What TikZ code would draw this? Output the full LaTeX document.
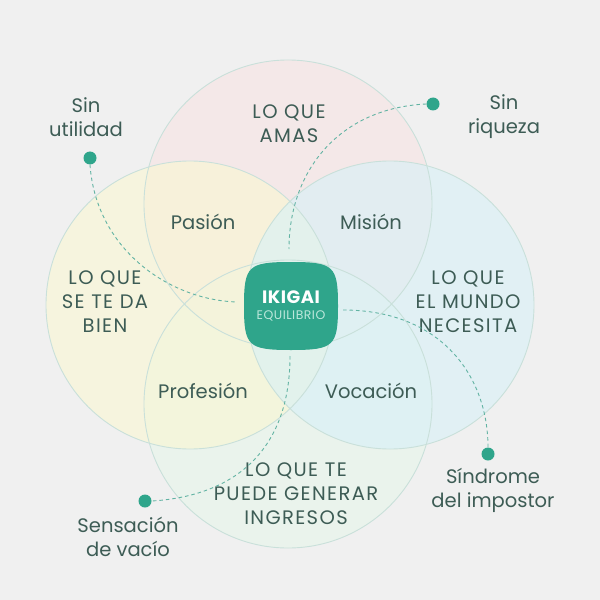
\documentclass[tikz,border=0pt]{standalone}
\usepackage{fontspec}
\setmainfont{Poppins}
\newfontfamily\capsfont[LetterSpace=7]{Poppins}
\newfontfamily\ikfont[LetterSpace=3]{Poppins}
\newfontfamily\subfont[LetterSpace=4]{Poppins}
\definecolor{bg}{HTML}{F0F0F0}
\definecolor{cpink}{HTML}{F8E4E4}
\definecolor{cyellow}{HTML}{FAF7D2}
\definecolor{cblue}{HTML}{D7F1F8}
\definecolor{cgreen}{HTML}{E6F5EA}
\definecolor{ring}{HTML}{C9E0DA}
\definecolor{teal}{HTML}{2FA58B}
\definecolor{dashc}{HTML}{62B3A3}
\definecolor{txt}{HTML}{3D5C55}
\definecolor{sub}{HTML}{BDE8DC}
\tikzset{
  lbl/.style={text=txt, align=center, font=\fontsize{19.6}{24.2}\selectfont, inner sep=0pt},
  caplbl/.style={lbl, font=\fontsize{19.6}{24.2}\selectfont\capsfont},
  dotnode/.style={circle, fill=teal, minimum size=13bp, inner sep=0pt},
  conn/.style={draw=dashc, dashed, dash pattern=on 3.5bp off 3bp, line width=0.9bp},
  ring/.style={draw=ring, line width=0.9bp},
  blob/.style={fill opacity=0.6}
}
\begin{document}
\begin{tikzpicture}[x=1bp,y=-1bp]
\fill[bg] (0,0) rectangle (600,600);
\useasboundingbox (0,0) rectangle (600,600);
% circle fills
\fill[cpink,blob] (288,204) circle[radius=144bp];
\fill[cgreen,blob] (288,404) circle[radius=144bp];
\fill[cyellow,blob] (190,305) circle[radius=144bp];
\fill[cblue,blob] (390,305) circle[radius=144bp];
% circle outlines
\draw[ring] (288,204) circle[radius=144bp];
\draw[ring] (288,404) circle[radius=144bp];
\draw[ring] (190,305) circle[radius=144bp];
\draw[ring] (390,305) circle[radius=144bp];
% central squircle
\fill[teal] (291,262) .. controls (334,262) and (338,266) .. (338,306)
  .. controls (338,346) and (334,350) .. (291,350)
  .. controls (248,350) and (244,346) .. (244,306)
  .. controls (244,266) and (248,262) .. (291,262) -- cycle;
\node[inner sep=0pt, text=white, font=\fontsize{18}{19}\selectfont\ikfont\bfseries] (ik) at (291,297) {IKIGAI};
\node[inner sep=0pt, text=sub, font=\fontsize{12.5}{13}\selectfont\subfont] (eq) at (291,316) {EQUILIBRIO};
\coordinate (bl) at (237,302);
\coordinate (bt) at (289,249);
\coordinate (bb) at (290,356);
\coordinate (br) at (343,310);
% labels
\node[caplbl] (amas) at (289,124) {LO QUE\\AMAS};
\node[lbl] (pas) at (203,222) {Pasión};
\node[lbl] (mis) at (371,222) {Misión};
\node[caplbl] (bien) at (105,302) {LO QUE\\SE TE DA\\BIEN};
\node[caplbl] (mundo) at (468,302) {LO QUE\\EL MUNDO\\NECESITA};
\node[lbl] (prof) at (203,391) {Profesión};
\node[lbl] (voc) at (371,391) {Vocación};
\node[caplbl] (ingr) at (296,494) {LO QUE TE\\PUEDE GENERAR\\INGRESOS};
\node[lbl] (su) at (86,117) {Sin\\utilidad};
\node[lbl] (sr) at (504,117) {Sin\\riqueza};
\node[lbl] (sv) at (128,537) {Sensación\\de vacío};
\node[lbl] (si) at (493,490) {Síndrome\\del impostor};
% dots
\node[dotnode] (d1) at (90,158) {};
\node[dotnode] (d2) at (433,104) {};
\node[dotnode] (d3) at (145,501) {};
\node[dotnode] (d4) at (488,454) {};
% connectors
\draw[conn] (d1.south) .. controls (96,250) and (170,300) .. (bl);
\draw[conn] (d2.west) .. controls (340,108) and (289,170) .. (bt);
\draw[conn] (bb) .. controls (290,450) and (235,496) .. (d3.east);
\draw[conn] (br) .. controls (440,310) and (488,375) .. (d4.north);
\end{tikzpicture}
\end{document}
